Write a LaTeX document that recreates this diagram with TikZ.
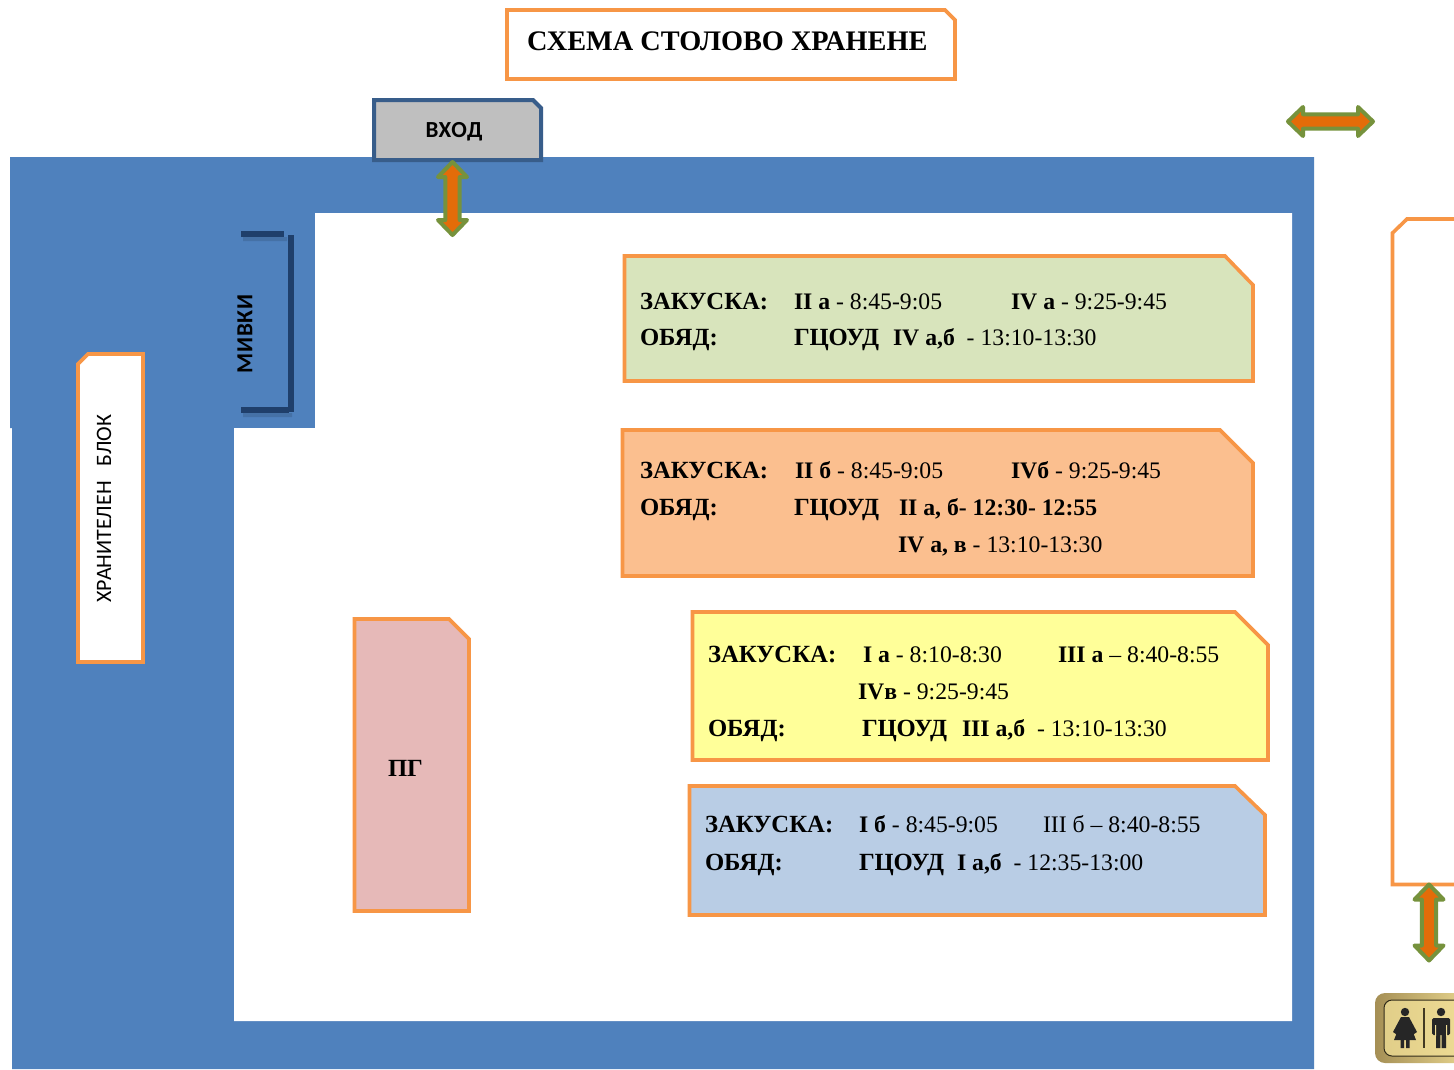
\documentclass[tikz,border=0pt]{standalone}
\usepackage{fontspec}
\setmainfont{Liberation Serif}
\setsansfont{Carlito}
\definecolor{wall}{HTML}{4F81BD}
\definecolor{edgeorange}{HTML}{F79646}
\definecolor{entryedge}{HTML}{385D8A}
\definecolor{bracket}{HTML}{1F3F6B}
\definecolor{arrowedge}{HTML}{76923C}
\definecolor{arrowfill}{HTML}{E36C09}
\definecolor{goldA}{HTML}{A58F55}
\definecolor{goldB}{HTML}{F0DE96}
\newcommand{\biga}{\fontsize{23.7}{24}\selectfont}
\newcommand{\bigb}{\fontsize{24.7}{25}\selectfont}
\newcommand{\dblarrow}[4]{% x y angle halflength
  \begin{scope}[shift={(#1,#2)},rotate=#3]
    \path[arrowshape] (-#4,0) -- (-#4+15,-14.5) -- (-#4+15,-7.2) -- (#4-15,-7.2) -- (#4-15,-14.5) -- (#4,0) -- (#4-15,14.5) -- (#4-15,7.2) -- (-#4+15,7.2) -- (-#4+15,14.5) -- cycle;
  \end{scope}}
\tikzset{
  arrowshape/.style={draw=arrowedge,fill=arrowfill,line width=4pt,line join=round},
  panel/.style={draw=edgeorange,line width=3.6pt,line join=miter},
  row/.style={anchor=base west,inner sep=0pt,outer sep=0pt,font=\biga,yshift=-0.6pt},
  label/.style={row,font=\bigb\bfseries},
  barline/.style={draw=bracket,line width=5.5pt}
}
\begin{document}
\begin{tikzpicture}[x=1pt,y=-1pt]
\useasboundingbox (0,0) rectangle (1454,1069);
\clip (0,0) rectangle (1454,1069);
\fill[white] (0,0) rectangle (1454,1069);
% walls
\fill[wall] (10,157) -- (1314,157) -- (1314,1069) -- (12,1069) -- (12,428) -- (10,428) -- cycle;
\fill[white] (315,213) -- (1292,213) -- (1292,1021) -- (234,1021) -- (234,428) -- (315,428) -- cycle;
% title
\path[panel,fill=white] (507,10) -- (945,10) -- (955,20) -- (955,79) -- (507,79) -- cycle;
\node[anchor=base west,inner sep=0pt,font=\fontsize{28.3}{28}\selectfont\bfseries] (title) at (527,50) {СХЕМА СТОЛОВО ХРАНЕНЕ};
% entry
\path[draw=entryedge,line width=4pt,fill=black!25] (374,100) -- (533,100) -- (541,108) -- (541,160) -- (374,160) -- cycle;
\node[anchor=base,inner sep=0pt,font=\fontsize{23}{23}\selectfont\sffamily\bfseries] (entry) at (454,137) {\addfontfeature{LetterSpace=3}ВХОД};
% storage block
\path[panel,fill=white] (88,354) -- (143,354) -- (143,662) -- (78,662) -- (78,364) -- cycle;
\node[rotate=90,inner sep=0pt,font=\fontsize{22}{22}\selectfont\sffamily] (storage) at (104,508.5) {ХРАНИТЕЛЕН\ \ \ БЛОК};
% sinks
\fill[black,opacity=.12] (243,237) rectangle (287,241) (243,413) rectangle (292,417);
\draw[barline] (241,234) -- (284,234);
\draw[barline] (291,235) -- (291,412);
\draw[barline] (241,410) -- (289,410);
\node[rotate=90,inner sep=0pt,font=\fontsize{23}{23}\selectfont\sffamily\bfseries] (sinks) at (245,334) {\addfontfeature{LetterSpace=3}МИВКИ};
% green panel
\path[panel,fill={rgb,255:red,216;green,228;blue,188}] (624.5,256) -- (1225,256) -- (1253,285) -- (1253,381) -- (624.5,381) -- cycle;
\node[label] (g1) at (640,309) {ЗАКУСКА:};
\node[row] (g2) at (794,309) {\textbf{II а} - 8:45-9:05};
\node[row] (g3) at (1011,309) {\textbf{IV а} - 9:25-9:45};
\node[label] (g4) at (640,345) {ОБЯД:};
\node[label] (g5) at (794,345) {ГЦОУД};
\node[row] (g6) at (893,345) {\textbf{IV а,б}\ \ - 13:10-13:30};
% orange panel
\path[panel,fill={rgb,255:red,251;green,191;blue,143}] (622.5,430) -- (1220,430) -- (1253,463) -- (1253,576) -- (622.5,576) -- cycle;
\node[label] (o1) at (640,478) {ЗАКУСКА:};
\node[row] (o2) at (795,478) {\textbf{II б} - 8:45-9:05};
\node[row] (o3) at (1011,478) {\textbf{IVб} - 9:25-9:45};
\node[label] (o4) at (640,515) {ОБЯД:};
\node[label] (o5) at (794,515) {ГЦОУД};
\node[label,font=\biga\bfseries] (o6) at (899,515) {II а, б- 12:30- 12:55};
\node[row] (o7) at (898,552) {\textbf{IV а, в} - 13:10-13:30};
% yellow panel
\path[panel,fill={rgb,255:red,255;green,255;blue,153}] (692.5,612) -- (1235,612) -- (1268,645) -- (1268,760) -- (692.5,760) -- cycle;
\node[label] (y1) at (708,662) {ЗАКУСКА:};
\node[row] (y2) at (863,662) {\textbf{I а} - 8:10-8:30};
\node[row] (y3) at (1058,662) {\textbf{III а} -- 8:40-8:55};
\node[row] (y4) at (858,699) {\textbf{IVв} - 9:25-9:45};
\node[label] (y5) at (708,736) {ОБЯД:};
\node[label] (y6) at (862,736) {ГЦОУД};
\node[row] (y7) at (962,736) {\textbf{III а,б}\ \ - 13:10-13:30};
% blue panel
\path[panel,fill={rgb,255:red,185;green,205;blue,229}] (689.5,786) -- (1235,786) -- (1265,815) -- (1265,915) -- (689.5,915) -- cycle;
\node[label] (b1) at (705,832) {ЗАКУСКА:};
\node[row] (b2) at (859,832) {\textbf{I б} - 8:45-9:05};
\node[row] (b3) at (1043,832) {III б -- 8:40-8:55};
\node[label] (b4) at (705,870) {ОБЯД:};
\node[label] (b5) at (859,870) {ГЦОУД};
\node[row] (b6) at (957,870) {\textbf{I а,б}\ \ - 12:35-13:00};
% PG
\path[panel,fill={rgb,255:red,230;green,185;blue,184}] (354.5,619) -- (449,619) -- (469,639) -- (469,911) -- (354.5,911) -- cycle;
\node[label] (pg) at (388,776) {ПГ};
% right room
\path[panel,fill=white] (1407,219) -- (1470,219) -- (1470,884.5) -- (1392.5,884.5) -- (1392.5,233) -- cycle;
% arrows
\dblarrow{1330.5}{121.5}{0}{42.5}
\dblarrow{452.5}{198.5}{90}{36.5}
\dblarrow{1429}{922.5}{90}{38}
% restroom sign
\path[rounded corners=10pt,left color=goldA,right color=goldB] (1375,993) rectangle (1480,1063);
\path[rounded corners=8pt,draw=black!70!goldA,line width=1pt,left color=goldB!80!goldA,right color=goldB] (1384,1000) rectangle (1480,1056);
\draw[black!60!goldA,line width=1.2pt] (1424,1008) -- (1424,1048);
% woman
\fill[black!85] (1405,1012) circle (4.2);
\fill[black!85] (1401,1017) -- (1409,1017) -- (1417,1032) -- (1414,1034) -- (1411,1027) -- (1416,1040) -- (1394,1040) -- (1399,1027) -- (1396,1034) -- (1393,1032) -- cycle;
\fill[black!85] (1400.5,1040) rectangle (1404,1048) (1406,1040) rectangle (1409.5,1048);
% man
\fill[black!85] (1441,1012) circle (4.2);
\fill[black!85,rounded corners=1.5pt] (1432,1018) rectangle (1450,1035);
\fill[black!85] (1435.5,1018) rectangle (1446.5,1033) (1436,1033) rectangle (1440.3,1048) (1441.7,1033) rectangle (1446,1048);
\fill[goldB] (1435,1025) rectangle (1436,1036) (1446,1025) rectangle (1447,1036);
\end{tikzpicture}
\end{document}
